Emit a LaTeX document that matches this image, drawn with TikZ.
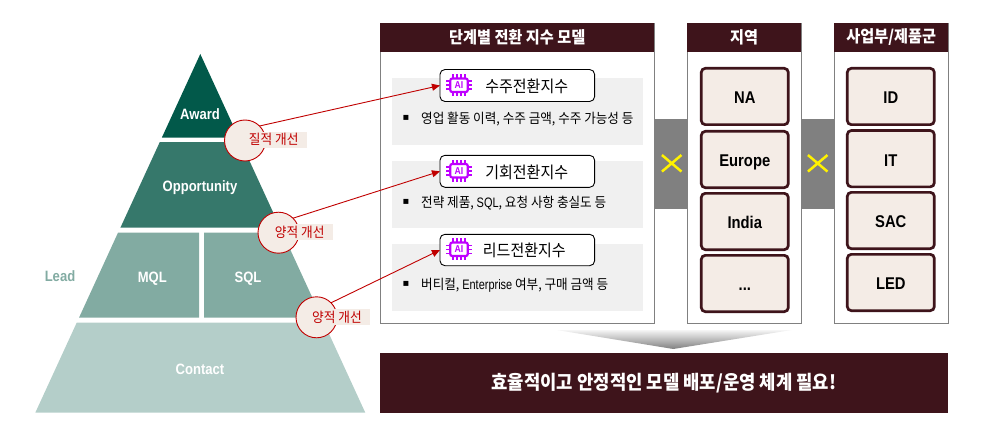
\documentclass[tikz,border=0pt]{standalone}
\usepackage{fontspec}
\setmainfont[FakeStretch=0.87]{Liberation Sans}
\newfontfamily\krfont[FakeStretch=0.92]{Noto Sans CJK KR}
\newfontfamily\narrowfont[FakeStretch=0.8]{Liberation Sans}
\newfontfamily\symfont{DejaVu Sans}
\usetikzlibrary{arrows.meta,shapes.misc}
\definecolor{wine}{HTML}{3E141B}
\definecolor{cream}{HTML}{F4ECE6}
\definecolor{tierA}{HTML}{02594A}
\definecolor{tierB}{HTML}{36786B}
\definecolor{tierC}{HTML}{82ABA2}
\definecolor{tierD}{HTML}{B4CEC9}
\definecolor{redline}{HTML}{C00000}
\definecolor{chipcol}{HTML}{BF00FF}
\definecolor{rowgray}{HTML}{F0F0F0}
\tikzset{
  tierlabel/.style={text=white,inner sep=0,text height=10.7pt,text depth=0pt,font=\fontsize{15}{17}\selectfont\bfseries},
  panelbody/.style={rectangle,draw=gray,fill=white,line width=0.8pt,inner sep=0,outer sep=0,minimum height=300.3pt},
  panelhead/.style={rectangle,fill=wine,text=white,inner sep=0,outer sep=0,minimum height=28.7pt,font=\fontsize{16.5}{18}\selectfont\krfont\bfseries},
  rowbox/.style={rectangle,fill=rowgray,inner sep=0,outer sep=0,minimum width=251pt,minimum height=67pt},
  scorebox/.style={rectangle,draw=black,fill=white,rounded corners=5pt,line width=0.9pt,inner sep=0,outer sep=0,minimum width=154.7pt,minimum height=32pt},
  scoretext/.style={font=\fontsize{16.3}{18}\selectfont\krfont,inner sep=0},
  bullettext/.style={anchor=west,inner sep=0,font=\fontsize{13.7}{15}\selectfont\krfont},
  bulletmark/.style={inner sep=0,font=\fontsize{10}{12}\selectfont\symfont},
  chipbody/.style={rectangle,draw=chipcol,text=chipcol,line width=2.2pt,rounded corners=2pt,inner sep=0,minimum width=17.5pt,minimum height=13.5pt,font=\fontsize{10}{10}\selectfont\bfseries},
  chippin/.style={draw=chipcol,line width=1.6pt},
  itembox/.style={rectangle,draw=wine,fill=cream,line width=2.7pt,rounded corners=4pt,inner sep=0,outer sep=0,minimum width=87pt,minimum height=56.3pt,text height=14.6pt,text depth=0pt,font=\fontsize{17}{19}\selectfont\bfseries},
  linkbar/.style={rectangle,fill=gray,inner sep=0,outer sep=0,minimum width=33pt,minimum height=90pt},
  crossmark/.style={cross out,draw=yellow,line width=2.5pt,inner sep=0,minimum width=17pt,minimum height=14pt},
  gaincircle/.style={circle,draw=redline,fill=cream,line width=0.9pt,inner sep=0,outer sep=0,minimum size=41pt},
  gaintext/.style={rectangle,fill=cream,text=redline,inner sep=0,minimum width=66pt,minimum height=16pt,font=\fontsize{13.8}{15}\selectfont\krfont},
  gainarrow/.style={draw=redline,line width=0.9pt,-{Triangle[length=8pt,width=7pt]}}
}
\begin{document}
\begin{tikzpicture}[x=1pt,y=-1pt]
\useasboundingbox (0,0) rectangle (982,441);
\fill[tierA] (200.3,54) -- (238.8,137.7) -- (161.8,137.7) -- cycle;
\fill[tierB] (159.8,142) -- (240.8,142) -- (280.2,227.7) -- (120.4,227.7) -- cycle;
\fill[tierC] (118,232.7) -- (199,232.7) -- (199,317.7) -- (79,317.7) -- cycle;
\fill[tierC] (204,232.7) -- (282.5,232.7) -- (321.6,317.7) -- (204,317.7) -- cycle;
\fill[tierD] (76.7,322.7) -- (323.9,322.7) -- (365.3,412.7) -- (35.3,412.7) -- cycle;
\node at (200,113.8) [tierlabel] (award) {Award};
\node at (200,185.8) [tierlabel] (opportunity) {Opportunity};
\node at (152.3,276.7) [tierlabel] (mql) {MQL};
\node at (248,276.7) [tierlabel] (sql) {SQL};
\node at (200,368.8) [tierlabel] (contact) {Contact};
\node at (60,275.8) [tierlabel,text=tierC] (lead) {Lead};

\node at (517.2,173.2) [panelbody,minimum width=274.3pt] (modelpanel) {};
\node at (744.2,173.2) [panelbody,minimum width=114.3pt] (regionpanel) {};
\node at (891.3,173.2) [panelbody,minimum width=114pt] (divisionpanel) {};
\node at (517.2,37.4) [panelhead,minimum width=274.3pt] (modelhead) {단계별 전환 지수 모델};
\node at (744.2,37.4) [panelhead,minimum width=114.3pt] (regionhead) {지역};
\node at (891.3,37.4) [panelhead,minimum width=114pt] (divisionhead) {사업부/제품군};

\node at (517.5,111.5) [rowbox] (row1) {};
\node at (517.5,194.2) [rowbox] (row2) {};
\node at (517.5,277.4) [rowbox] (row3) {};
\node at (517.3,85.5) [scorebox] (score1) {};
\node at (517.3,171.3) [scorebox] (score2) {};
\node at (517.3,250) [scorebox,minimum height=31.4pt] (score3) {};
\node at (526.7,86.5) [scoretext] (name1) {수주전환지수};
\node at (526.7,172.5) [scoretext] (name2) {기회전환지수};
\node at (524.3,250.5) [scoretext] (name3) {리드전환지수};
\foreach \nm/\cy in {chip1/85.3,chip2/170.7,chip3/249.3} {
  \node at (459,\cy) [chipbody] (\nm) {AI};
  \foreach \d in {-6,-2,2,6} {
    \draw[chippin] ({459+\d},{\cy-7.5}) -- ({459+\d},{\cy-11});
    \draw[chippin] ({459+\d},{\cy+7.5}) -- ({459+\d},{\cy+11});
  }
  \foreach \d in {-4,0,4} {
    \draw[chippin] (450,{\cy+\d}) -- (446,{\cy+\d});
    \draw[chippin] (468,{\cy+\d}) -- (472,{\cy+\d});
  }
}
\node at (406,118) [bulletmark] (dot1) {▪};
\node at (406,202.4) [bulletmark] (dot2) {▪};
\node at (406,284) [bulletmark] (dot3) {▪};
\node at (421,119) [bullettext] (desc1) {영업 활동 이력, 수주 금액, 수주 가능성 등};
\node at (421,203.4) [bullettext] (desc2) {전략 제품, {\narrowfont SQL}, 요청 사항 충실도 등};
\node at (421,285) [bullettext] (desc3) {버티컬, {\narrowfont Enterprise} 여부, 구매 금액 등};

\node at (670.7,164.3) [linkbar] (bar1) {};
\node at (817.7,164.3) [linkbar] (bar2) {};
\node at (671.7,163.3) [crossmark] (cross1) {};
\node at (817.7,163.3) [crossmark] (cross2) {};

\node at (744.8,96.5) [itembox] (na) {NA};
\node at (744.8,159.5) [itembox] (europe) {Europe};
\node at (744.8,221.5) [itembox] (india) {India};
\node at (744.8,283.5) [itembox] (dots) {...};
\node at (890.8,96.5) [itembox] (id) {ID};
\node at (890.8,158.7) [itembox] (it) {IT};
\node at (890.8,220.5) [itembox] (sac) {SAC};
\node at (890.8,282.5) [itembox] (led) {LED};

\shade[top color=black!4,bottom color=gray] (556.7,330) -- (791.7,330) -- (673.3,349) -- cycle;
\node at (663.9,382.9) [rectangle,fill=wine,text=white,inner sep=0,minimum width=567.7pt,minimum height=59.7pt,font=\fontsize{19.3}{21}\selectfont\krfont\bfseries] (banner) {효율적이고 안정적인 모델 배포/운영 체계 필요!};

\node at (245,140.5) [gaincircle] (gain1) {};
\node at (278.5,232.7) [gaincircle] (gain2) {};
\node at (316.5,317.3) [gaincircle] (gain3) {};
\node at (273.7,139.7) [gaintext] (gainlabel1) {질적 개선};
\node at (299.7,232) [gaintext] (gainlabel2) {양적 개선};
\node at (337,317) [gaintext] (gainlabel3) {양적 개선};
\draw[gainarrow] (gain1.45) -- (score1.west);
\draw[gainarrow] (gain2.45) -- (score2.west);
\draw[gainarrow] (gain3.45) -- (score3.west);
\end{tikzpicture}
\end{document}
